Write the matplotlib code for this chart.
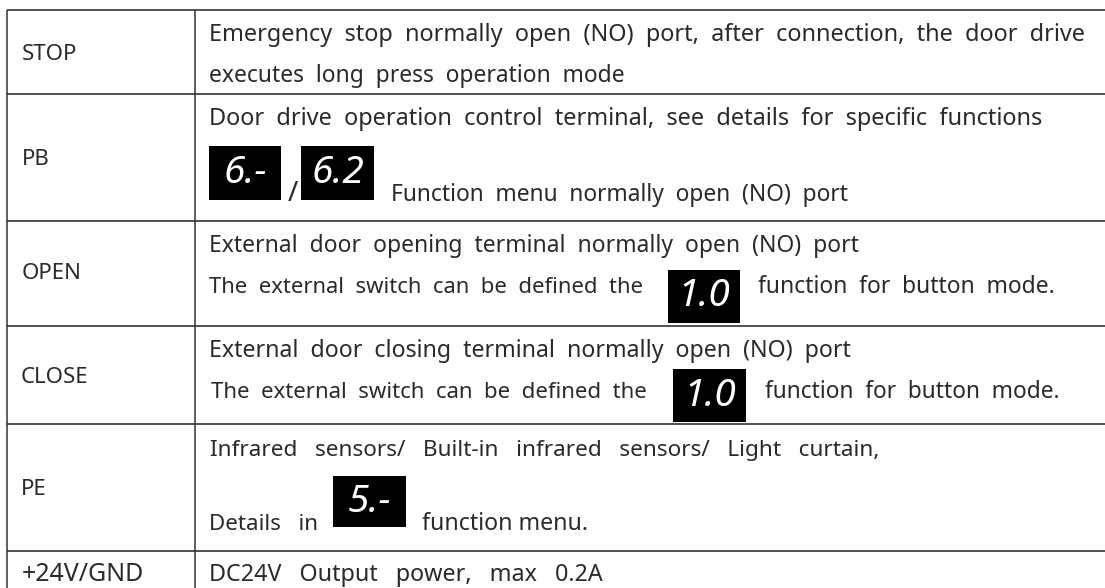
import matplotlib
matplotlib.use("Agg")
import matplotlib.pyplot as plt
from matplotlib.patches import Rectangle

W, H = 1105, 588
FONT = "Noto Sans"
BASE = 16.5
INK = "#2a2a2a"

row_lines = [10, 94, 220.5, 326, 424, 550.5]
col_lines = [6.5, 195]

# text, x start, y baseline, size
left_labels = [
    ("STOP", 22, 60, 16),
    ("PB", 22, 165, 16),
    ("OPEN", 22, 279, 16),
    ("CLOSE", 21, 383, 16),
    ("PE", 21, 495, 16),
    ("+24V/GND", 22, 581, 18),
]

# text, x start, x end, y baseline
body_lines = [
    ("Emergency stop normally open (NO) port, after connection, the door drive", 209, 1088, 41),
    ("executes long press operation mode", 209, 625, 82),
    ("Door drive operation control terminal, see details for specific functions", 209, 1046, 125),
    ("Function menu normally open (NO) port", 391, 850, 201),
    ("External door opening terminal normally open (NO) port", 209, 858, 252),
    ("The external switch can be defined the", 209, 643, 293),
    ("function for button mode.", 758, 1055, 293),
    ("External door closing terminal normally open (NO) port", 209, 852, 357),
    ("The external switch can be defined the", 211, 649, 398),
    ("function for button mode.", 765, 1060, 398),
    ("Infrared sensors/ Built-in infrared sensors/ Light curtain,", 210, 880, 456),
    ("Details in", 209, 318, 530),
    ("function menu.", 422, 588, 530),
    ("DC24V Output power, max 0.2A", 209, 604, 581),
]

# label, x0, x1, y0, y1
display_boxes = [
    ("6.-", 209, 281, 146, 200),
    ("6.2", 301, 374, 146, 200),
    ("1.0", 668, 740, 270, 323),
    ("1.0", 673, 746, 369, 422),
    ("5.-", 333, 406, 476, 527),
]

fig = plt.figure(figsize=(W / 100, H / 100), dpi=100)
ax = fig.add_axes([0, 0, 1, 1])
ax.set_xlim(0, W)
ax.set_ylim(H, 0)
ax.axis("off")

for y in row_lines:
    ax.plot([col_lines[0], W], [y, y], color="#222222", lw=1.1, solid_capstyle="butt")
for x in col_lines:
    ax.plot([x, x], [row_lines[0], H], color="#333333", lw=1.1, solid_capstyle="butt")

fig.canvas.draw()
rend = fig.canvas.get_renderer()


def fitted(s, x0, x1, y):
    """Use the same whole number of spaces in every gap, then fit the width by size."""
    t = ax.text(x0, y, s, family=FONT, fontsize=BASE, color=INK, va="baseline",
                ha="left", weight="light")
    target = x1 - x0
    words = s.split(" ")
    choice, err = s, abs(t.get_window_extent(rend).width - target)
    for n in (2, 3):
        trial = (" " * n).join(words)
        t.set_text(trial)
        e = abs(t.get_window_extent(rend).width - target)
        if e < err:
            choice, err = trial, e
    t.set_text(choice)
    t.set_fontsize(BASE * target / t.get_window_extent(rend).width)


for s, x, y, size in left_labels:
    ax.text(x, y, s, family=FONT, fontsize=size, color=INK, va="baseline", ha="left",
            weight="light")

for s, x0, x1, y in body_lines:
    fitted(s, x0, x1, y)

for s, x0, x1, y0, y1 in display_boxes:
    ax.add_patch(Rectangle((x0, y0), x1 - x0, y1 - y0, fc="black", ec="none"))
    ax.text((x0 + x1) / 2, (y0 + y1) / 2, s, family=FONT, fontsize=28, style="italic",
            color="white", ha="center", va="center", weight="light")

ax.text(293, 201, "/", family=FONT, fontsize=20, color=INK, ha="center", va="baseline",
        weight="light")

fig.savefig("out.png", dpi=100)
